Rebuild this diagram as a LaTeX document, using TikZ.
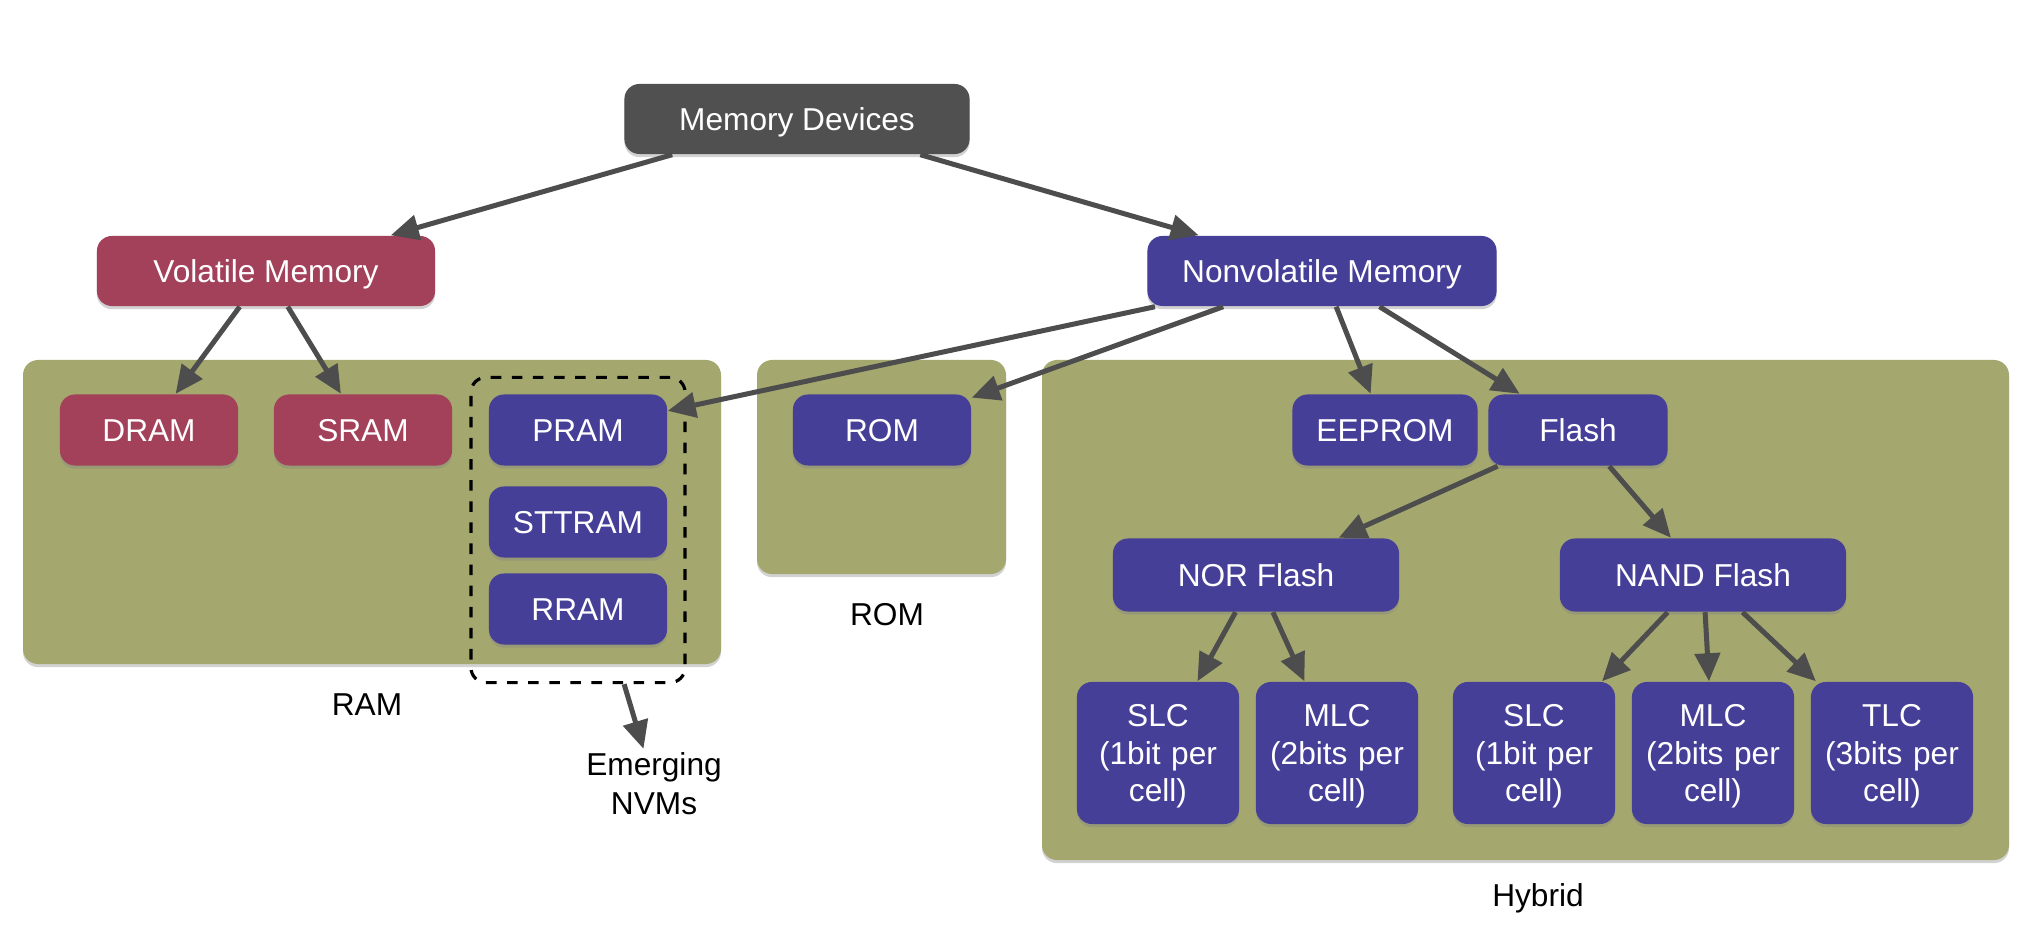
\documentclass[tikz,border=0pt]{standalone}
\usepackage{fontspec}
\setmainfont{Liberation Sans}
\usetikzlibrary{arrows.meta,shadows,fit}
\definecolor{mdgray}{HTML}{505050}
\definecolor{volred}{HTML}{A3405A}
\definecolor{nvblue}{HTML}{463F98}
\definecolor{olive}{HTML}{A4A86F}
\definecolor{arrowgray}{HTML}{4D4D4D}
\tikzset{
  box/.style={rounded corners=0.15cm, text=white, font=\fontsize{9}{10.7}\selectfont,
    align=center, inner sep=0pt,
    drop shadow={opacity=0.35, shadow xshift=0pt, shadow yshift=-0.9pt}},
  oneline/.style={text height=6.45pt, text depth=0pt},
  mdbox/.style={box, oneline, fill=mdgray, minimum width=3.45cm, minimum height=0.70cm},
  redbox/.style={box, fill=volred},
  bluebox/.style={box, fill=nvblue},
  smallbox/.style={oneline, minimum width=1.78cm, minimum height=0.71cm},
  cellbox/.style={bluebox, text height=6.45pt, text depth=21.4pt, minimum width=1.62cm, minimum height=1.42cm, text width=1.5cm},
  panel/.style={rounded corners=0.15cm, fill=olive, draw=none,
    drop shadow={opacity=0.35, shadow xshift=0pt, shadow yshift=-0.9pt}},
  lbl/.style={font=\fontsize{9}{11}\selectfont, text=black, align=center, inner sep=1pt},
  conn/.style={draw=arrowgray, line width=0.05cm,
    -{Triangle[length=0.28cm,width=0.25cm]}, fill=arrowgray},
}
\begin{document}
\begin{tikzpicture}[x=0.01cm,y=-0.01cm]
\useasboundingbox[fill=white] (0,0) rectangle (2018,940);
% panels
\path[panel] (23,360) rectangle (721,664);
\path[panel] (757,360) rectangle (1006,574);
\path[panel] (1042,360) rectangle (2009,860);
% top
\node[mdbox] (md) at (797,119) {Memory Devices};
\node[redbox, oneline, minimum width=3.38cm, minimum height=0.70cm] (vol) at (266,271) {Volatile Memory};
\node[bluebox, oneline, minimum width=3.49cm, minimum height=0.70cm] (nv) at (1322,271) {Nonvolatile Memory};
% RAM
\node[redbox, smallbox] (dram) at (149,430) {DRAM};
\node[redbox, smallbox] (sram) at (363,430) {SRAM};
\node[bluebox, smallbox] (pram) at (578,430) {PRAM};
\node[bluebox, smallbox] (stt) at (578,522) {STTRAM};
\node[bluebox, smallbox] (rram) at (578,609) {RRAM};
\node[draw=black, dashed, line width=0.9pt, rounded corners=0.15cm, minimum width=2.14cm, minimum height=3.05cm, inner sep=0pt] (nvm) at (578,530) {};
\node[lbl] (ramlbl) at (367,705) {RAM};
\node[lbl] (emerg) at (654,784) {Emerging\\NVMs};
% ROM
\node[bluebox, smallbox] (rom) at (882,430) {ROM};
\node[lbl] (romlbl) at (887,615) {ROM};
% Hybrid
\node[bluebox, oneline, minimum width=1.85cm, minimum height=0.71cm] (eeprom) at (1385,430) {EEPROM};
\node[bluebox, oneline, minimum width=1.79cm, minimum height=0.71cm] (flash) at (1578,430) {Flash};
\node[bluebox, oneline, minimum width=2.86cm, minimum height=0.73cm] (nor) at (1256,575) {NOR Flash};
\node[bluebox, oneline, minimum width=2.86cm, minimum height=0.73cm] (nand) at (1703,575) {NAND Flash};
\node[cellbox] (slc1) at (1158,753) {SLC\\(1bit per\\cell)};
\node[cellbox] (mlc1) at (1337,753) {MLC\\(2bits per\\cell)};
\node[cellbox] (slc2) at (1534,753) {SLC\\(1bit per\\cell)};
\node[cellbox] (mlc2) at (1713,753) {MLC\\(2bits per\\cell)};
\node[cellbox] (tlc) at (1892,753) {TLC\\(3bits per\\cell)};
\node[lbl] (hyblbl) at (1538,898) {Hybrid};
% connectors
\draw[conn] (md) -- (vol);
\draw[conn] (md) -- (nv);
\draw[conn] (vol) -- (dram);
\draw[conn] (vol) -- (sram);
\draw[conn] (nv) -- (pram);
\draw[conn] (nv) -- (rom);
\draw[conn] (nv) -- (eeprom);
\draw[conn] (nv) -- (flash);
\draw[conn] (flash) -- (nor);
\draw[conn] (flash) -- (nand);
\draw[conn] (nor) -- (slc1);
\draw[conn] (nor) -- (mlc1);
\draw[conn] (nand) -- (slc2);
\draw[conn] (nand) -- (mlc2);
\draw[conn] (nand) -- (tlc);
\draw[conn] (nvm) -- (emerg);
\end{tikzpicture}
\end{document}
